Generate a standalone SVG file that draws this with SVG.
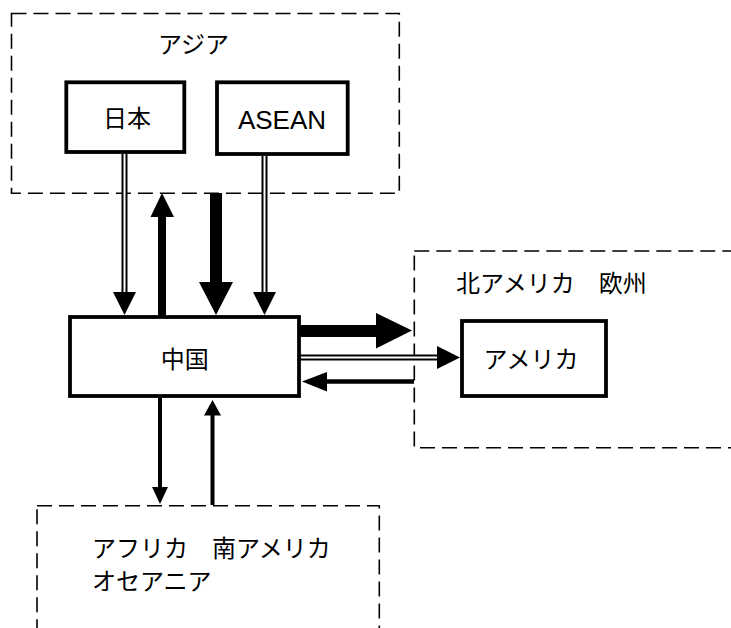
<svg xmlns="http://www.w3.org/2000/svg" width="731" height="628" viewBox="0 0 731 628">
<style>
.region{fill:none;stroke:#000;stroke-width:1.6;stroke-dasharray:15 7}
.box{fill:#fff;stroke:#000;stroke-width:3.8}
.t{font-family:"Liberation Sans","Noto Sans CJK JP",sans-serif;font-size:24px;fill:#000}
.dbl{stroke:#000;stroke-width:6;fill:none}
.dbl-in{stroke:#fff;stroke-width:2;fill:none}
.line{stroke:#000;fill:none}
.head{fill:#000;stroke:none}
</style>
<rect width="731" height="628" fill="#fff"/>
<g id="asia">
<rect class="region" x="11.5" y="13.5" width="387.8" height="179.8"/>
<text class="t" x="193.5" y="53" text-anchor="middle">アジア</text>
</g>
<g id="na-europe">
<rect class="region" x="414.3" y="251" width="330" height="196.7"/>
<text class="t" x="456" y="292">北アメリカ　欧州</text>
</g>
<g id="others">
<rect class="region" x="37" y="505.7" width="342.3" height="140"/>
<text class="t" x="92" y="556.5">アフリカ　南アメリカ</text>
<text class="t" x="92" y="590">オセアニア</text>
</g>
<g id="connectors">
<!-- 日本 -> 中国 double -->
<line class="dbl" x1="124.5" y1="154" x2="124.5" y2="293"/>
<line class="dbl-in" x1="124.5" y1="154" x2="124.5" y2="293"/>
<polygon class="head" points="113,292 136,292 124.5,315"/>
<!-- ASEAN -> 中国 double -->
<line class="dbl" x1="264.5" y1="156" x2="264.5" y2="293"/>
<line class="dbl-in" x1="264.5" y1="156" x2="264.5" y2="293"/>
<polygon class="head" points="253,292 276,292 264.5,315"/>
<!-- 中国 -> アジア up -->
<line class="line" stroke-width="8" x1="162" y1="316" x2="162" y2="216"/>
<polygon class="head" points="150.5,217 174,217 162,193"/>
<!-- アジア -> 中国 thick down -->
<line class="line" stroke-width="12" x1="216" y1="193" x2="216" y2="283"/>
<polygon class="head" points="199,282 233,282 216,315"/>
<!-- 中国 -> 北アメリカ欧州 thick -->
<line class="line" stroke-width="12" x1="300" y1="331" x2="377" y2="331"/>
<polygon class="head" points="376,313 376,348.5 412,330.5"/>
<!-- 中国 -> アメリカ double -->
<line class="dbl" x1="300" y1="357.5" x2="438" y2="357.5"/>
<line class="dbl-in" x1="300" y1="357.5" x2="438" y2="357.5"/>
<polygon class="head" points="437,346 437,369 460,357.5"/>
<!-- 北アメリカ欧州 -> 中国 -->
<line class="line" stroke-width="4.5" x1="414" y1="381.5" x2="325" y2="381.5"/>
<polygon class="head" points="327,372 327,391.5 302,381.5"/>
<!-- 中国 -> others -->
<line class="line" stroke-width="4" x1="160" y1="398" x2="160" y2="488"/>
<polygon class="head" points="152,487 168,487 160,504"/>
<!-- others -> 中国 -->
<line class="line" stroke-width="4" x1="212.5" y1="505" x2="212.5" y2="414"/>
<polygon class="head" points="204,415.5 221,415.5 212.5,400"/>
</g>
<g id="japan">
<rect class="box" x="66.3" y="82.3" width="118" height="69.7"/>
<text class="t" x="127" y="126.5" text-anchor="middle">日本</text>
</g>
<g id="asean">
<rect class="box" x="217" y="82.3" width="130.7" height="71.7"/>
<text class="t" x="282" y="129.3" text-anchor="middle" style="font-size:26px">ASEAN</text>
</g>
<g id="china">
<rect class="box" x="70" y="317" width="229" height="79"/>
<text class="t" x="184.7" y="367.5" text-anchor="middle">中国</text>
</g>
<g id="america">
<rect class="box" x="462" y="321" width="144" height="75"/>
<text class="t" x="531" y="368" text-anchor="middle">アメリカ</text>
</g>
</svg>
